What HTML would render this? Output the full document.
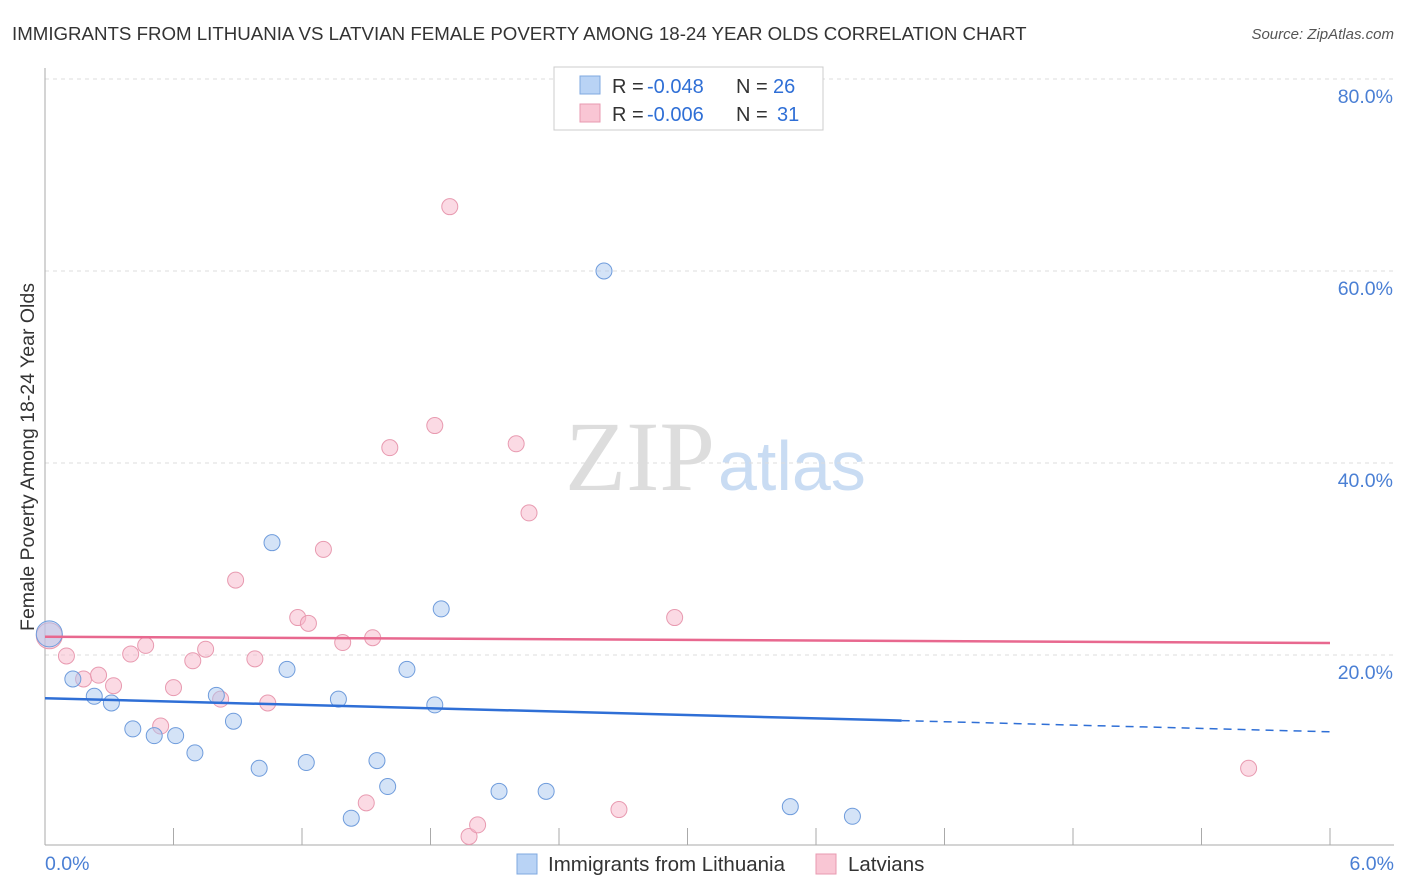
<!DOCTYPE html>
<html><head><meta charset="utf-8"><style>
body{margin:0;background:#fff;font-family:"Liberation Sans",sans-serif;}
svg{display:block}
</style></head><body>
<svg id="chart" width="1406" height="892">
<text x="12" y="40" font-size="18.7" fill="#333">IMMIGRANTS FROM LITHUANIA VS LATVIAN FEMALE POVERTY AMONG 18-24 YEAR OLDS CORRELATION CHART</text>
<text x="1394" y="39" font-size="15" fill="#555" font-style="italic" text-anchor="end">Source: ZipAtlas.com</text>
<text x="715" y="490" font-size="100" fill="#ddd" text-anchor="end" font-family="Liberation Serif">ZIP</text>
<text x="718" y="490" font-size="70" fill="#c9dcf3">atlas</text>
<text transform="translate(34,457) rotate(-90)" font-size="19.5" fill="#333" text-anchor="middle">Female Poverty Among 18-24 Year Olds</text>
<g id="grid"></g><g id="marks"></g>
<g>
<rect x="554" y="67" width="269" height="63" fill="#fff" stroke="#ccc"/>
<rect x="580" y="76" width="20" height="18" fill="#b9d3f5" stroke="#7fa8e0"/>
<rect x="580" y="104" width="20" height="18" fill="#f9c6d4" stroke="#e89ab0"/>
<text x="612" y="93" font-size="20" fill="#333">R =</text>
<text x="647" y="93" font-size="20" fill="#2f6fd6">-0.048</text>
<text x="736" y="93" font-size="20" fill="#333">N =</text>
<text x="773" y="93" font-size="20" fill="#2f6fd6">26</text>
<text x="612" y="121" font-size="20" fill="#333">R =</text>
<text x="647" y="121" font-size="20" fill="#2f6fd6">-0.006</text>
<text x="736" y="121" font-size="20" fill="#333">N =</text>
<text x="777" y="121" font-size="20" fill="#2f6fd6">31</text>
</g>
<g>
<rect x="517" y="854" width="20" height="20" fill="#b9d3f5" stroke="#7fa8e0"/>
<text x="548" y="871" font-size="20.5" fill="#333">Immigrants from Lithuania</text>
<rect x="816" y="854" width="20" height="20" fill="#f9c6d4" stroke="#e89ab0"/>
<text x="848" y="871" font-size="20.5" fill="#333">Latvians</text>
</g>
</svg>
<script>
const blueX=[0.02,0.13,0.23,0.31,0.41,0.51,0.61,0.70,0.80,0.88,1.00,1.06,1.13,1.22,1.37,1.43,1.55,1.60,1.69,1.82,1.85,2.12,2.34,2.61,3.48,3.77];
const blueY=[22.2,17.5,15.7,15.0,12.3,11.6,11.6,9.8,15.8,13.1,8.2,31.7,18.5,8.8,15.4,3.0,9.0,6.3,18.5,14.8,24.8,5.8,5.8,60.0,4.2,3.2];
const pinkX=[0.02,0.10,0.18,0.25,0.32,0.40,0.47,0.54,0.60,0.69,0.75,0.82,0.89,0.98,1.04,1.18,1.23,1.30,1.39,1.50,1.53,1.61,1.82,1.89,1.98,2.02,2.20,2.26,2.68,2.94,5.62];
const pinkY=[22.0,19.9,17.5,17.9,16.8,20.1,21.0,12.6,16.6,19.4,20.6,15.4,27.8,19.6,15.0,23.9,23.3,31.0,21.3,4.6,21.8,41.6,43.9,66.7,1.1,2.3,42.0,34.8,3.9,23.9,8.2];
const blueTrend=[15.5,12.0];
const pinkTrend=[21.9,21.25];
const yTicks=[20,40,60,80];
const xTickLabels=["0.0%","6.0%"];
const NS="http://www.w3.org/2000/svg";
const X=v=>45+v/6*1285, Y=v=>847-v*9.6;
function mk(tag,at,parent){const e=document.createElementNS(NS,tag);for(const k in at)e.setAttribute(k,at[k]);parent.appendChild(e);return e;}
const g=document.getElementById('grid'), m=document.getElementById('marks');
yTicks.forEach(t=>{
 const l=mk('line',{x1:45,x2:1394,y1:Y(t),y2:Y(t),stroke:'#ddd','stroke-dasharray':'4,4'},g);
 
 
 const tx=mk('text',{x:1393,y:Y(t)+24,'font-size':19.5,fill:'#4a7fd4','text-anchor':'end'},g);tx.textContent=t.toFixed(1)+'%';
 
 
});
const ax=mk('line',{x1:45,x2:45,y1:68,y2:845,stroke:'#aaa'},g);


const bx=mk('line',{x1:45,x2:1394,y1:845,y2:845,stroke:'#aaa'},g);


for(let i=1;i<=10;i++){const t=mk('line',{x1:X(i*0.6),x2:X(i*0.6),y1:828,y2:845,stroke:'#aaa'},g);
 
 }
[[0,'start',45],[6,'end',1394]].forEach((d,i)=>{const t=mk('text',{x:d[2],y:870,'font-size':19.5,fill:'#4a7fd4','text-anchor':d[1]},g);t.textContent=xTickLabels[i];
 
 });
function pts(xs,ys,fill,stroke,name){xs.forEach((x,i)=>{const c=mk('circle',{cx:X(x),cy:Y(ys[i]),r:i==0?13:8,fill:fill,'fill-opacity':0.5,stroke:stroke,'stroke-width':1},m);
 
 });}
pts(pinkX,pinkY,'#f7b6c9','#e89ab0','latvians-point');
pts(blueX,blueY,'#a9c8f0','#6f9cdc','lithuania-point');
const bt=v=>blueTrend[0]+(blueTrend[1]-blueTrend[0])*v/6;
const l1=mk('line',{x1:X(0),y1:Y(bt(0)),x2:X(4),y2:Y(bt(4)),stroke:'#2f6fd6','stroke-width':2.5},m);


const l2=mk('line',{x1:X(4),y1:Y(bt(4)),x2:X(6),y2:Y(bt(6)),stroke:'#2f6fd6','stroke-width':1.5,'stroke-dasharray':'8,6'},m);


const l3=mk('line',{x1:X(0),y1:Y(pinkTrend[0]),x2:X(6),y2:Y(pinkTrend[1]),stroke:'#e8688f','stroke-width':2.5},m);


</script>
</body></html>
